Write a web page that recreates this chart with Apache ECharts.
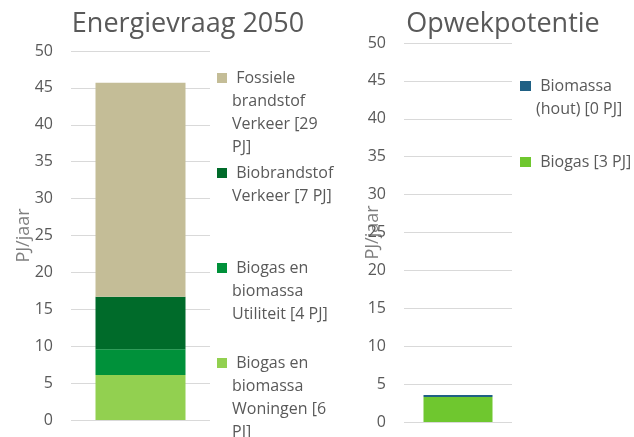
<!DOCTYPE html>
<html>
<head>
<meta charset="utf-8">
<script src="https://cdn.jsdelivr.net/npm/echarts@6/dist/echarts.min.js"></script>
<style>
  html, body { margin: 0; padding: 0; background: #fff; }
  #chart { width: 634px; height: 437px; }
</style>
</head>
<body>
<div id="chart"></div>
<script>
// waarden (PJ/jaar)
const yTicks = [0, 5, 10, 15, 20, 25, 30, 35, 40, 45, 50];

const vraagNamen = [
  'Biogas en biomassa Woningen',
  'Biogas en biomassa Utiliteit',
  'Biobrandstof Verkeer',
  'Fossiele brandstof Verkeer'
];
const vraagWaarden = [6.1, 3.5, 7.1, 29.0];
const vraagLabels = [
  ' Biogas en\nbiomassa\nWoningen [6\nPJ]',
  ' Biogas en\nbiomassa\nUtiliteit [4 PJ]',
  ' Biobrandstof\nVerkeer [7 PJ]',
  ' Fossiele\nbrandstof\nVerkeer [29\nPJ]'
];
const vraagKleuren = ['#92d050', '#00913a', '#006b2a', '#c4bd97'];

const opwekNamen = ['Biogas', 'Biomassa (hout)'];
const opwekWaarden = [3.3, 0.25];
const opwekLabels = [' Biogas [3 PJ]', ' Biomassa\n(hout) [0 PJ]'];
const opwekKleuren = ['#6fc72f', '#1f6084'];

const grijs = '#595959';
const font = 'Open Sans';
const LH = 23;

const chart = echarts.init(document.getElementById('chart'));

// legenda-icoon bij de eerste regel: lege regels ervoor zetten
function legendaTekst(label) {
  const n = label.split('\n').length;
  return '\n'.repeat(n - 1) + label;
}

function legenda(naam, label, kleur, left, eersteRegel, w) {
  const n = label.split('\n').length;
  return {
    data: [naam],
    left: left,
    top: eersteRegel - LH / 2 - (n - 1) * LH,
    padding: 0,
    itemWidth: w,
    itemHeight: 10,
    icon: 'rect',
    selectedMode: false,
    formatter: () => legendaTekst(label),
    textStyle: { color: grijs, fontFamily: font, fontSize: 16, lineHeight: LH }
  };
}

function yAs(grid) {
  return {
    type: 'value',
    gridIndex: grid,
    min: 0,
    max: 50,
    interval: 5,
    name: 'PJ/jaar',
    nameLocation: 'middle',
    nameMoveOverlap: false,
    nameGap: grid === 0 ? 38 : 22,
    nameTextStyle: { color: '#7f7f7f', fontFamily: font, fontSize: 18 },
    axisLine: { show: false },
    axisTick: { show: false },
    axisLabel: { color: grijs, fontFamily: font, fontSize: 16, margin: 18 },
    splitLine: { lineStyle: { color: '#d9d9d9', width: 1 } }
  };
}

const legendaRegels = [363, 268, 173, 78];
const opwekRegels = [162, 86];

const option = {
  animation: false,
  title: [
    { text: 'Energievraag 2050', left: 183, top: 6, textAlign: 'center',
      textStyle: { color: grijs, fontFamily: font, fontSize: 27, fontWeight: 'normal' } },
    { text: 'Opwekpotentie', left: 498, top: 6, textAlign: 'center',
      textStyle: { color: grijs, fontFamily: font, fontSize: 27, fontWeight: 'normal' } }
  ],
  legend: [
    ...vraagNamen.map((n, i) => legenda(n, vraagLabels[i], vraagKleuren[i], 217, legendaRegels[i], 10)),
    ...opwekNamen.map((n, i) => legenda(n, opwekLabels[i], opwekKleuren[i], 520, opwekRegels[i], 11))
  ],
  grid: [
    { left: 71, top: 51, width: 139, height: 369 },
    { left: 404, top: 43, width: 108, height: 379 }
  ],
  xAxis: [
    { type: 'category', gridIndex: 0, data: [''], axisLine: { show: false },
      axisTick: { show: false }, axisLabel: { show: false } },
    { type: 'category', gridIndex: 1, data: [''], axisLine: { show: false },
      axisTick: { show: false }, axisLabel: { show: false } }
  ],
  yAxis: [yAs(0), yAs(1)],
  series: [
    ...vraagNamen.map((n, i) => ({
      name: n, type: 'bar', stack: 'vraag', xAxisIndex: 0, yAxisIndex: 0,
      barWidth: 90, data: [vraagWaarden[i]],
      itemStyle: { color: vraagKleuren[i] }
    })),
    ...opwekNamen.map((n, i) => ({
      name: n, type: 'bar', stack: 'opwek', xAxisIndex: 1, yAxisIndex: 1,
      barWidth: 69, data: [opwekWaarden[i]],
      itemStyle: { color: opwekKleuren[i] }
    }))
  ]
};

chart.setOption(option);
</script>
</body>
</html>
